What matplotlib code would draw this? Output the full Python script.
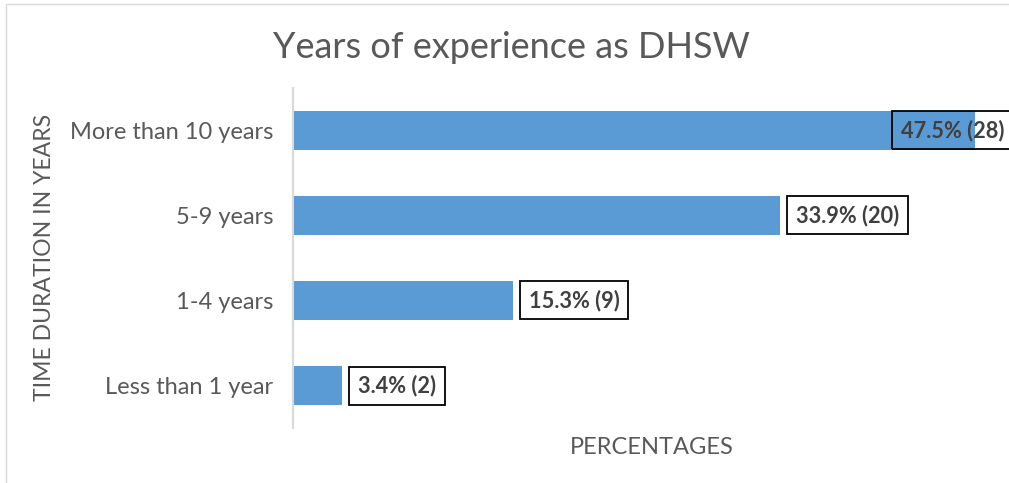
import matplotlib
matplotlib.use("Agg")
import matplotlib.pyplot as plt
from matplotlib.patches import Rectangle

# Data
categories = ["Less than 1 year", "1-4 years", "5-9 years", "More than 10 years"]
percentages = [3.4, 15.3, 33.9, 47.5]
counts = [2, 9, 20, 28]

BAR_COLOR = "#5B9BD5"
TEXT_GRAY = "#595959"
LABEL_GRAY = "#404040"

plt.rcParams["font.family"] = ["Lato", "DejaVu Sans"]

W, H = 1009, 483
fig = plt.figure(figsize=(W / 100, H / 100), dpi=100)
fig.patch.set_facecolor("white")

# Outer chart frame
fig.patches.append(Rectangle((6 / W, -0.1), 1.2, 1 - 4 / H + 0.1,
                             transform=fig.transFigure, fill=False,
                             edgecolor="#D9D9D9", linewidth=1.0, zorder=0))

ax = fig.add_axes([293 / W, 1 - 428 / H, 718 / W, 340 / H])

y = list(range(len(categories)))
ax.barh(y, percentages, height=0.47, color=BAR_COLOR, zorder=2)

ax.set_xlim(0, 50)
ax.set_ylim(-0.5, len(categories) - 0.5)

ax.set_yticks(y)
ax.set_yticklabels(categories, fontsize=17, color=TEXT_GRAY)
ax.tick_params(axis="y", length=0, pad=14)
ax.set_xticks([])

for side in ("top", "right", "bottom"):
    ax.spines[side].set_visible(False)
ax.spines["left"].set_color("#D9D9D9")
ax.spines["left"].set_linewidth(1.5)

# Data labels; the outlined boxes are added after layout
PADX, PADY = 9, 8.5
labels = []
for yi, p, c in zip(y, percentages, counts):
    txt = f"{p}% ({c})"
    if p > 45:
        t = ax.annotate(txt, xy=(1.0, yi), xycoords=("axes fraction", "data"),
                        xytext=(-PADX + 2, 0), textcoords="offset pixels",
                        ha="right", va="center", fontsize=15.7, fontweight="bold",
                        color=LABEL_GRAY, zorder=3, annotation_clip=False)
    else:
        t = ax.annotate(txt, xy=(p, yi), xytext=(7 + PADX, 0),
                        textcoords="offset pixels",
                        ha="left", va="center", fontsize=15.7, fontweight="bold",
                        color=LABEL_GRAY, zorder=3)
    labels.append(t)

fig.text(511 / W, 1 - 47 / H, "Years of experience as DHSW",
         ha="center", va="center", fontsize=26, color=TEXT_GRAY)
fig.text(45 / W, 1 - 257 / H, "TIME DURATION IN YEARS", rotation=90,
         ha="center", va="center", fontsize=16.6, color=TEXT_GRAY)
fig.text(652 / W, 1 - 447 / H, "PERCENTAGES", ha="center", va="center",
         fontsize=17, color=TEXT_GRAY)

fig.canvas.draw()
renderer = fig.canvas.get_renderer()
for t in labels:
    bb = t.get_window_extent(renderer)
    cy = (bb.y0 + bb.y1) / 2
    hh = 10.5 + PADY
    rect = Rectangle(((bb.x0 - PADX) / W, (cy - hh) / H),
                     (bb.width + 2 * PADX) / W, 2 * hh / H,
                     transform=fig.transFigure, fill=False,
                     edgecolor="black", linewidth=1.3, zorder=4)
    fig.patches.append(rect)

fig.savefig("out.png", dpi=100)
